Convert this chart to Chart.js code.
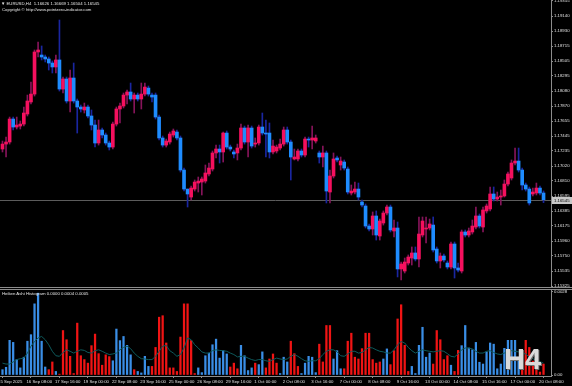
<!DOCTYPE html>
<html>
<head>
  <title>EURUSD H4 - Heiken Ashi</title>
  <script src="https://cdn.jsdelivr.net/npm/chart.js@4.4.1/dist/chart.umd.min.js"></script>
  <style>
    body { margin: 0; background: #000; }
    #wrap { position: relative; width: 572px; height: 386px; background: #000; overflow: hidden;
            font-family: "Liberation Sans", Arial, sans-serif; color: #e6e6e6; }
    #wrap canvas { position: absolute; left: 0; }
    #priceCanvas { top: 0; }
    #histCanvas { top: 288px; }
    .lbl { position: absolute; font-size: 4.3px; line-height: 5px; white-space: nowrap; }
    #sym { left: 1px; top: 1px; }
    #copy { left: 2px; top: 7px; }
    #haTitle { left: 2px; top: 291px; }
    #tf { position: absolute; left: 504px; top: 343px; font: bold 29px "Liberation Sans", Arial, sans-serif;
          color: #dadada; text-shadow: 1px 1px 0 #6e6e6e; }
    .sep { position: absolute; left: 0; width: 572px; height: 1px; background: #8c8c8c; }
  </style>
</head>
<body>
<div id="wrap">
  <canvas id="priceCanvas" width="572" height="288"></canvas>
  <canvas id="histCanvas" width="572" height="98"></canvas>
  <div class="sep" style="top:287px"></div>
  <div class="sep" style="top:289px"></div>
  <div class="lbl" id="sym">&#9660; EURUSD,H4&nbsp; 1.16626 1.16669 1.16504 1.16545</div>
  <div class="lbl" id="copy">Copyright &copy; http://www.pointzero-indicator.com</div>
  <div class="lbl" id="haTitle">Heiken Ashi Histogram 0.0000 0.0004 0.0005</div>
  <div id="tf">H4</div>
</div>

<script>
// ---------------- data (Heiken Ashi H4 candles, 15 Sep - 20 Oct 2025) ----------------
var tickLabels = ['15 Sep 2025','16 Sep 08:00','17 Sep 16:00','19 Sep 00:00','22 Sep 08:00','23 Sep 16:00',
  '25 Sep 00:00','26 Sep 08:00','29 Sep 16:00','1 Oct 00:00','2 Oct 08:00','3 Oct 16:00','7 Oct 00:00',
  '8 Oct 08:00','9 Oct 16:00','13 Oct 00:00','14 Oct 08:00','15 Oct 16:00','17 Oct 00:00','20 Oct 08:00'];

var priceTicks = [1.19355,1.19140,1.18930,1.18715,1.18505,1.18295,1.18080,1.17870,1.17655,1.17445,
  1.17235,1.17020,1.16810,1.16595,1.16385,1.16175,1.15960,1.15750,1.15535,1.15325];

var haOpen = [1.17262,1.17332,1.17361,1.17686,1.17573,1.17587,1.17615,1.17757,1.17927,1.18039,
  1.18634,1.18591,1.18563,1.18535,1.18478,1.18422,1.18521,1.18110,1.18252,1.17941,
  1.18266,1.17941,1.17856,1.17814,1.17856,1.17729,1.17601,1.17347,1.17531,1.17460,
  1.17347,1.17290,1.17615,1.17828,1.17870,1.18025,1.18068,1.17969,1.18025,1.17969,
  1.18039,1.18124,1.18025,1.18025,1.17714,1.17418,1.17318,1.17361,1.17460,1.17502,
  1.17418,1.16965,1.16696,1.16583,1.16696,1.16781,1.16795,1.16809,1.16909,1.16979,
  1.17206,1.17262,1.17220,1.17488,1.17290,1.17220,1.17206,1.17276,1.17559,1.17361,
  1.17559,1.17332,1.17347,1.17573,1.17488,1.17488,1.17220,1.17234,1.17276,1.17332,
  1.17531,1.17361,1.17121,1.17121,1.17234,1.17177,1.17403,1.17389,1.17375,1.17206,
  1.17149,1.17206,1.16654,1.16880,1.17135,1.17036,1.17078,1.16979,1.16640,1.16654,
  1.16696,1.16513,1.16456,1.16173,1.16131,1.16315,1.16032,1.16216,1.16357,1.16442,
  1.16103,1.16145,1.15566,1.15537,1.15650,1.15721,1.15792,1.15707,1.16046,1.16131,
  1.16145,1.16187,1.15848,1.15679,1.15749,1.15650,1.15594,1.15919,1.15580,1.15537,
  1.16089,1.16046,1.16089,1.16159,1.16315,1.16159,1.16386,1.16414,1.16626,1.16555,
  1.16583,1.16598,1.16767,1.16852,1.17064,1.17092,1.16965,1.16753,1.16696,1.16626,
  1.16640,1.16710,1.16640];

var haClose = [1.17332,1.17361,1.17686,1.17573,1.17601,1.17615,1.17771,1.17941,1.18039,1.18634,
  1.18662,1.18563,1.18535,1.18478,1.18422,1.18521,1.18110,1.18252,1.17941,1.18266,
  1.17941,1.17856,1.17828,1.17856,1.17729,1.17601,1.17347,1.17531,1.17460,1.17347,
  1.17290,1.17615,1.17828,1.17870,1.18025,1.18068,1.17969,1.18025,1.17969,1.18039,
  1.18138,1.18039,1.17997,1.17714,1.17418,1.17318,1.17375,1.17474,1.17517,1.17418,
  1.16965,1.16696,1.16626,1.16710,1.16795,1.16809,1.16838,1.16923,1.16993,1.17206,
  1.17262,1.17220,1.17488,1.17290,1.17262,1.17192,1.17276,1.17559,1.17361,1.17559,
  1.17304,1.17347,1.17573,1.17488,1.17474,1.17220,1.17304,1.17290,1.17332,1.17531,
  1.17361,1.17149,1.17149,1.17234,1.17177,1.17403,1.17389,1.17418,1.17418,1.17149,
  1.17206,1.16668,1.16880,1.17121,1.17107,1.17092,1.16993,1.16654,1.16668,1.16696,
  1.16583,1.16470,1.16173,1.16131,1.16315,1.16046,1.16244,1.16357,1.16442,1.16117,
  1.16145,1.15566,1.15636,1.15664,1.15735,1.15792,1.15707,1.16060,1.16244,1.16145,
  1.16202,1.15834,1.15679,1.15749,1.15693,1.15594,1.15919,1.15580,1.15551,1.16089,
  1.16046,1.16103,1.16173,1.16315,1.16173,1.16400,1.16456,1.16626,1.16555,1.16583,
  1.16598,1.16767,1.16909,1.17064,1.17092,1.16965,1.16753,1.16696,1.16499,1.16654,
  1.16710,1.16640,1.16545];

var haHigh = [1.17375,1.17431,1.17714,1.17714,1.17714,1.17658,1.17856,1.18025,1.18209,1.18662,
  1.18775,1.18719,1.18591,1.18563,1.18507,1.18591,1.19086,1.18280,1.18280,1.18379,
  1.18478,1.17969,1.17884,1.17912,1.17884,1.17814,1.17672,1.17672,1.17559,1.17488,
  1.17375,1.17644,1.17856,1.17912,1.18054,1.18096,1.18195,1.18054,1.18054,1.18195,
  1.18195,1.18153,1.18054,1.18054,1.17743,1.17446,1.17403,1.17502,1.17545,1.17531,
  1.17446,1.16993,1.16696,1.16739,1.16824,1.16866,1.16866,1.17036,1.17064,1.17234,
  1.17318,1.17318,1.17502,1.17517,1.17318,1.17248,1.17332,1.17615,1.17587,1.17601,
  1.17587,1.17418,1.17601,1.17771,1.17672,1.17630,1.17389,1.17318,1.17403,1.17573,
  1.17573,1.17389,1.17262,1.17262,1.17262,1.17431,1.17431,1.17587,1.17460,1.17234,
  1.17304,1.17234,1.16965,1.17206,1.17163,1.17149,1.17107,1.17008,1.16753,1.16795,
  1.16781,1.16541,1.16485,1.16202,1.16372,1.16386,1.16272,1.16386,1.16470,1.16470,
  1.16258,1.16230,1.15664,1.15721,1.15764,1.15877,1.15877,1.16301,1.16301,1.16301,
  1.16272,1.16301,1.15877,1.15792,1.15778,1.15679,1.15947,1.15947,1.15650,1.16117,
  1.16117,1.16145,1.16258,1.16442,1.16343,1.16442,1.16485,1.16725,1.16725,1.16654,
  1.16682,1.16824,1.16937,1.17107,1.17276,1.17276,1.16993,1.16781,1.16725,1.16710,
  1.16781,1.16739,1.16669];

var haLow = [1.17220,1.17149,1.17332,1.17531,1.17545,1.17545,1.17587,1.17729,1.17898,1.18011,
  1.18563,1.18521,1.18493,1.18379,1.18337,1.18337,1.18082,1.18054,1.17912,1.17785,
  1.17912,1.17488,1.17785,1.17771,1.17700,1.17531,1.17290,1.17318,1.17418,1.17318,
  1.17248,1.17262,1.17587,1.17630,1.17842,1.17898,1.17941,1.17771,1.17941,1.17828,
  1.18011,1.18011,1.17927,1.17686,1.17389,1.17290,1.17290,1.17332,1.17431,1.17389,
  1.16937,1.16668,1.16442,1.16541,1.16668,1.16654,1.16612,1.16781,1.16880,1.16951,
  1.17135,1.17064,1.17078,1.17262,1.17234,1.17135,1.17107,1.17248,1.17332,1.17149,
  1.17276,1.17290,1.17318,1.17460,1.17149,1.17135,1.17192,1.17206,1.17248,1.17304,
  1.17332,1.16824,1.17107,1.17092,1.17149,1.17149,1.17290,1.17262,1.17347,1.17064,
  1.17008,1.16499,1.16499,1.16852,1.17078,1.16965,1.16965,1.16626,1.16612,1.16626,
  1.16541,1.16442,1.16145,1.16103,1.16046,1.15975,1.15975,1.16187,1.16329,1.16089,
  1.16018,1.15453,1.15410,1.15509,1.15622,1.15622,1.15679,1.15594,1.16018,1.15933,
  1.16117,1.15806,1.15650,1.15580,1.15664,1.15566,1.15566,1.15438,1.15523,1.15509,
  1.16018,1.16018,1.16060,1.16131,1.16145,1.16089,1.16357,1.16386,1.16527,1.16527,
  1.16470,1.16583,1.16739,1.16824,1.17036,1.16937,1.16682,1.16668,1.16470,1.16598,
  1.16612,1.16612,1.16504];

// histogram window
var histValue = [0.00018,0.00026,0.00117,0.00110,0.00052,0.00024,0.00060,0.00114,0.00136,0.00240,
  0.00276,0.00114,0.00027,0.00018,0.00044,0.00012,0.00003,0.00150,0.00119,0.00063,
  0.00005,0.00175,0.00065,0.00052,0.00040,0.00099,0.00138,0.00072,0.00033,0.00068,
  0.00062,0.00048,0.00155,0.00116,0.00130,0.00100,0.00068,0.00018,0.00012,0.00007,
  0.00063,0.00029,0.00029,0.00093,0.00195,0.00200,0.00108,0.00024,0.00024,0.00012,
  0.00128,0.00240,0.00240,0.00116,0.00005,0.00024,0.00008,0.00065,0.00074,0.00102,
  0.00121,0.00057,0.00082,0.00071,0.00027,0.00040,0.00021,0.00100,0.00065,0.00015,
  0.00024,0.00040,0.00035,0.00078,0.00024,0.00054,0.00071,0.00040,0.00005,0.00060,
  0.00044,0.00114,0.00072,0.00029,0.00005,0.00040,0.00063,0.00060,0.00008,0.00104,
  0.00044,0.00167,0.00167,0.00054,0.00082,0.00021,0.00021,0.00114,0.00141,0.00060,
  0.00054,0.00089,0.00141,0.00141,0.00052,0.00040,0.00044,0.00054,0.00088,0.00035,
  0.00082,0.00189,0.00237,0.00100,0.00012,0.00029,0.00005,0.00100,0.00161,0.00060,
  0.00074,0.00037,0.00150,0.00119,0.00052,0.00065,0.00033,0.00012,0.00083,0.00099,
  0.00167,0.00091,0.00085,0.00110,0.00043,0.00037,0.00078,0.00108,0.00104,0.00021,
  0.00037,0.00090,0.00117,0.00117,0.00117,0.00060,0.00050,0.00117,0.00093,0.00047,
  0.00029,0.00010,0.00037];

// 1 = blue bar, -1 = red bar
var histDir = [1,1,1,1,1,1,1,1,1,1, 1,1,1,-1,-1,1,-1,-1,-1,-1,
  -1,-1,-1,-1,-1,-1,-1,-1,-1,-1, -1,1,1,1,1,1,1,-1,1,1,
  1,1,-1,-1,-1,-1,-1,-1,-1,-1, -1,-1,-1,-1,-1,1,1,1,1,1,
  1,1,1,1,-1,-1,-1,1,1,1, 1,-1,1,1,-1,-1,-1,-1,1,1,
  1,-1,-1,-1,1,1,1,1,1,-1, -1,-1,-1,1,1,1,-1,-1,-1,-1,
  -1,-1,-1,-1,-1,-1,-1,1,1,-1, -1,-1,-1,-1,-1,1,1,1,1,1,
  1,-1,-1,-1,-1,-1,1,-1,-1,1, 1,1,1,1,1,1,1,1,1,1,
  1,1,1,1,1,1,-1,-1,-1,-1, -1,-1,-1];

var histAvg = [0.00040,0.00037,0.00037,0.00044,0.00052,0.00055,0.00057,0.00074,0.00097,0.00113,
  0.00125,0.00130,0.00119,0.00102,0.00080,0.00065,0.00063,0.00076,0.00085,0.00080,
  0.00074,0.00080,0.00085,0.00083,0.00076,0.00074,0.00082,0.00085,0.00080,0.00074,
  0.00069,0.00071,0.00074,0.00085,0.00093,0.00097,0.00089,0.00074,0.00063,0.00055,
  0.00054,0.00052,0.00052,0.00063,0.00080,0.00097,0.00100,0.00082,0.00074,0.00063,
  0.00069,0.00091,0.00125,0.00119,0.00102,0.00091,0.00078,0.00074,0.00074,0.00082,
  0.00085,0.00083,0.00082,0.00080,0.00074,0.00069,0.00061,0.00063,0.00063,0.00057,
  0.00052,0.00049,0.00052,0.00052,0.00048,0.00046,0.00052,0.00057,0.00054,0.00052,
  0.00054,0.00063,0.00069,0.00063,0.00055,0.00048,0.00046,0.00048,0.00048,0.00055,
  0.00069,0.00080,0.00085,0.00085,0.00078,0.00065,0.00063,0.00071,0.00080,0.00080,
  0.00074,0.00076,0.00085,0.00093,0.00091,0.00085,0.00080,0.00078,0.00074,0.00074,
  0.00085,0.00102,0.00113,0.00108,0.00093,0.00082,0.00074,0.00080,0.00085,0.00082,
  0.00080,0.00078,0.00080,0.00082,0.00080,0.00072,0.00063,0.00061,0.00071,0.00085,
  0.00091,0.00091,0.00088,0.00080,0.00074,0.00074,0.00080,0.00082,0.00076,0.00071,
  0.00069,0.00074,0.00080,0.00082,0.00080,0.00078,0.00074,0.00071,0.00060,0.00055,
  0.00050,0.00045,0.00040];

// ---------------- styling ----------------
var upBody = '#f5105e', dnBody = '#1e8cff';
var upWick = '#86145a', dnWick = '#1a26a0';
var histBlue = '#3a8ee6', histRed = '#f01414', avgColor = '#0d5a5c';
var axisColor = '#8c8c8c', textColor = '#e0e0e0';
var tinyFont = { family: '"Liberation Sans", Arial, sans-serif', size: 4.3 };
var xMin = -0.7, xMax = 154.1;

function pairs(a, b) {
  return a.map(function(v, i) { return { x: i, y: [a[i], b[i]] }; });
}
var isUp = haClose.map(function(c, i) { return c >= haOpen[i]; });

// current price line + price tag on the right scale
var lastPrice = {
  id: 'lastPrice',
  beforeDatasetsDraw: function(chart) {
    var ctx = chart.ctx, a = chart.chartArea;
    var y = Math.round(chart.scales.y.getPixelForValue(haClose[haClose.length - 1])) + 0.5;
    ctx.save();
    ctx.strokeStyle = '#5c5c5c';
    ctx.lineWidth = 1;
    ctx.beginPath(); ctx.moveTo(a.left, y); ctx.lineTo(a.right, y); ctx.stroke();
    ctx.restore();
  },
  afterDraw: function(chart) {
    var ctx = chart.ctx, a = chart.chartArea;
    var v = haClose[haClose.length - 1];
    var y = Math.round(chart.scales.y.getPixelForValue(v));
    ctx.save();
    ctx.fillStyle = '#c8c8c8';
    ctx.fillRect(a.right + 1, y - 3, 20, 7);
    ctx.fillStyle = '#000';
    ctx.font = '4.3px "Liberation Sans", Arial, sans-serif';
    ctx.textBaseline = 'middle';
    ctx.fillText(v.toFixed(5), a.right + 3, y + 0.5);
    ctx.restore();
  }
};

// ---------------- price window ----------------
new Chart(document.getElementById('priceCanvas'), {
  type: 'bar',
  data: {
    datasets: [{
      label: 'wick',
      data: pairs(haLow, haHigh),
      backgroundColor: isUp.map(function(u) { return u ? upWick : dnWick; }),
      barThickness: 1,
      grouped: false,
      order: 1
    }, {
      label: 'body',
      data: pairs(haOpen, haClose),
      backgroundColor: isUp.map(function(u) { return u ? upBody : dnBody; }),
      barThickness: 3,
      minBarLength: 1,
      grouped: false,
      order: 0
    }]
  },
  options: {
    responsive: false,
    animation: false,
    layout: { padding: { top: 0, bottom: 1, left: 0, right: 0 } },
    plugins: { legend: { display: false }, tooltip: { enabled: false } },
    scales: {
      x: { type: 'linear', display: false, offset: false, grid: { offset: false }, min: xMin, max: xMax },
      y: {
        position: 'right',
        min: 1.15311, max: 1.19369,
        afterBuildTicks: function(s) { s.ticks = priceTicks.map(function(v) { return { value: v }; }); },
        afterFit: function(s) { s.width = 21; s.paddingTop = 0; s.paddingBottom = 0; },
        ticks: { color: textColor, font: tinyFont, padding: 1,
                 callback: function(v) { return v.toFixed(5); } },
        grid: { drawOnChartArea: false, drawTicks: true, tickLength: 2, color: axisColor },
        border: { display: true, color: axisColor }
      }
    }
  },
  plugins: [lastPrice]
});

// ---------------- histogram window ----------------
new Chart(document.getElementById('histCanvas'), {
  type: 'bar',
  data: {
    datasets: [{
      type: 'line',
      label: 'average',
      data: histAvg.map(function(v, i) { return { x: i, y: v }; }),
      borderColor: avgColor,
      borderWidth: 1,
      pointRadius: 0,
      tension: 0,
      order: 0
    }, {
      label: 'histogram',
      data: histValue.map(function(v, i) { return { x: i, y: v }; }),
      backgroundColor: histDir.map(function(d) { return d > 0 ? histBlue : histRed; }),
      barThickness: 1.6,
      grouped: false,
      order: 1
    }]
  },
  options: {
    responsive: false,
    animation: false,
    layout: { padding: { top: 1, bottom: 0, left: 0, right: 0 } },
    plugins: { legend: { display: false }, tooltip: { enabled: false } },
    scales: {
      x: {
        type: 'linear', position: 'bottom', offset: false, min: xMin, max: xMax,
        afterBuildTicks: function(s) { s.ticks = tickLabels.map(function(t, k) { return { value: k * 8 }; }); },
        afterFit: function(s) { s.height = 10; s.paddingLeft = 0; s.paddingRight = 0; },
        ticks: { color: textColor, font: tinyFont, padding: 1, align: 'start', labelOffset: -4.5,
                 maxRotation: 0, autoSkip: false,
                 callback: function(v, i) { return tickLabels[i]; } },
        grid: { offset: false, drawOnChartArea: false, drawTicks: true, tickLength: 2, color: axisColor },
        border: { display: true, color: axisColor }
      },
      y: {
        position: 'right',
        min: -0.0000337, max: 0.002901,
        afterBuildTicks: function(s) { s.ticks = [{ value: 0.0028 }, { value: 0 }]; },
        afterFit: function(s) { s.width = 21; s.paddingTop = 0; s.paddingBottom = 0; },
        ticks: { color: textColor, font: tinyFont, padding: 1,
                 callback: function(v) { return v === 0 ? '0.00' : v.toFixed(4); } },
        grid: { drawOnChartArea: false, drawTicks: true, tickLength: 2, color: axisColor },
        border: { display: true, color: axisColor }
      }
    }
  }
});
</script>
</body>
</html>
